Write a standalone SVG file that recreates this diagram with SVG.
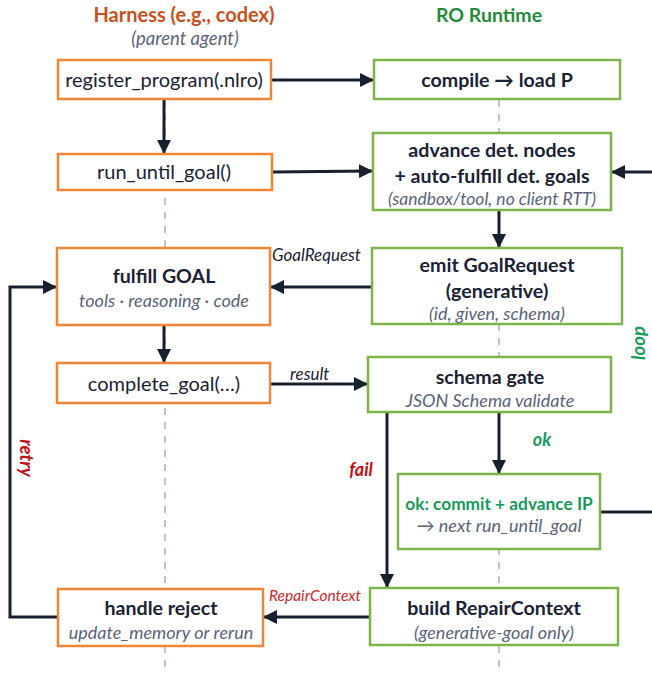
<svg xmlns="http://www.w3.org/2000/svg" width="652" height="673" viewBox="0 0 652 673">
<defs>
<marker id="ah" markerUnits="userSpaceOnUse" markerWidth="14" markerHeight="14" viewBox="0 0 14 14" refX="13" refY="7" orient="auto">
<path d="M0,0 L14,7 L0,14 z" fill="#18202f"/>
</marker>
<style>
text{font-family:Lato,"Noto Sans","Liberation Sans",sans-serif;text-anchor:middle}
.h{fill:#fff;stroke:#ef8636;stroke-width:2.5}
.r{fill:#fff;stroke:#7cb44a;stroke-width:2.5}
.t{font-size:20px;fill:#1a2233}
.b{font-size:19.6px;font-weight:bold;fill:#1a2233}
.s{font-size:18px;font-style:italic;fill:#5a6478}
.life{stroke:#a3b1c6;stroke-width:1.5;stroke-dasharray:7 7;fill:none}
.c{stroke:#18202f;stroke-width:3;fill:none}
.lbl{font-size:17px;font-style:italic;fill:#1a2233;text-anchor:start}
.grn{font-weight:bold;font-style:italic;fill:#159a5a}
.red{font-weight:bold;font-style:italic;fill:#c0101a}
</style>
</defs>
<g id="lanes">
<text x="184" y="22" style="font-size:20px;font-weight:bold;fill:#c9501c">Harness (e.g., codex)</text>
<text x="185" y="45" class="s" style="font-size:18.5px">(parent agent)</text>
<text x="489" y="22" style="font-size:19.5px;font-weight:bold;fill:#1e8c3a">RO Runtime</text>
<line class="life" x1="165" y1="100" x2="165" y2="673"/>
<line class="life" x1="499" y1="100" x2="499" y2="673"/>
</g>
<g id="connectors">
<line class="c" x1="271" y1="80" x2="373" y2="80" marker-end="url(#ah)"/>
<line class="c" x1="164" y1="99" x2="164" y2="153" marker-end="url(#ah)"/>
<line class="c" x1="272" y1="172" x2="372" y2="171" marker-end="url(#ah)"/>
<line class="c" x1="660" y1="172" x2="612" y2="172" marker-end="url(#ah)"/>
<line class="c" x1="600" y1="512" x2="660" y2="512"/>
<line class="c" x1="499" y1="210" x2="499" y2="247" marker-end="url(#ah)"/>
<line class="c" x1="372" y1="287" x2="271" y2="287" marker-end="url(#ah)"/>
<text class="lbl" x="272" y="261">GoalRequest</text>
<line class="c" x1="164" y1="325" x2="164" y2="362" marker-end="url(#ah)"/>
<line class="c" x1="270" y1="384" x2="367" y2="384" marker-end="url(#ah)"/>
<text class="lbl" x="290" y="380">result</text>
<line class="c" x1="499" y1="412" x2="499" y2="473" marker-end="url(#ah)"/>
<text x="542" y="446" class="grn" style="font-size:18px">ok</text>
<line class="c" x1="387" y1="412" x2="387" y2="587" marker-end="url(#ah)"/>
<text x="361" y="476" class="red" style="font-size:18px">fail</text>
<line class="c" x1="370" y1="617" x2="264" y2="617" marker-end="url(#ah)"/>
<text x="315" y="601" style="font-size:15.5px;font-style:italic;fill:#d0262a">RepairContext</text>
<path class="c" d="M58,617 H10 V287 H56" marker-end="url(#ah)"/>
<text transform="translate(20,458) rotate(90)" class="red" style="font-size:18.5px">retry</text>
<text transform="translate(645,343) rotate(-90)" class="grn" style="font-size:18.5px">loop</text>
</g>
<g id="register">
<rect class="h" x="58" y="60" width="213" height="39"/>
<text class="t" x="164" y="87">register_program(.nlro)</text>
</g>
<g id="run_until_goal">
<rect class="h" x="58" y="154" width="214" height="36"/>
<text class="t" x="164" y="179">run_until_goal()</text>
</g>
<g id="fulfill">
<rect class="h" x="57" y="248" width="213" height="77"/>
<text class="b" x="164" y="283">fulfill GOAL</text>
<text class="s" x="164" y="307">tools · reasoning · code</text>
</g>
<g id="complete_goal">
<rect class="h" x="57" y="363" width="213" height="40"/>
<text class="t" x="164" y="391">complete_goal(…)</text>
</g>
<g id="handle_reject">
<rect class="h" x="58" y="589" width="205" height="57"/>
<text class="b" x="161" y="615">handle reject</text>
<text class="s" x="161" y="639">update_memory or rerun</text>
</g>
<g id="compile">
<rect class="r" x="374" y="60" width="246" height="39"/>
<text class="b" x="497" y="87">compile → load P</text>
</g>
<g id="advance">
<rect class="r" x="373" y="133" width="238" height="77"/>
<text class="b" x="492" y="157">advance det. nodes</text>
<text class="b" x="492" y="183">+ auto-fulfill det. goals</text>
<text class="s" x="492" y="205" style="font-size:17.5px">(sandbox/tool, no client RTT)</text>
</g>
<g id="emit">
<rect class="r" x="372" y="248" width="250" height="76"/>
<text class="b" x="497" y="272">emit GoalRequest</text>
<text class="b" x="497" y="298">(generative)</text>
<text class="s" x="497" y="320">(id, given, schema)</text>
</g>
<g id="schema_gate">
<rect class="r" x="368" y="357" width="243" height="55"/>
<text class="b" x="490" y="384">schema gate</text>
<text class="s" x="490" y="407">JSON Schema validate</text>
</g>
<g id="commit">
<rect class="r" x="398" y="474" width="202" height="75"/>
<text x="499" y="510" style="font-size:17.3px;font-weight:bold;fill:#159a5a">ok: commit + advance IP</text>
<text class="s" x="499" y="532">→ next run_until_goal</text>
</g>
<g id="build_repair">
<rect class="r" x="370" y="588" width="248" height="57"/>
<text class="b" x="494" y="615">build RepairContext</text>
<text class="s" x="494" y="639">(generative-goal only)</text>
</g>
</svg>
